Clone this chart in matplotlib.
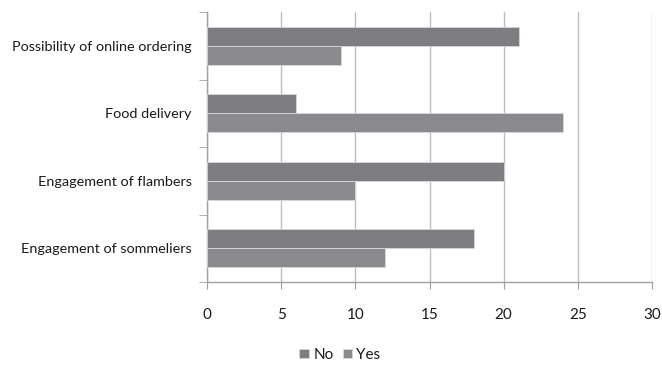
import matplotlib.pyplot as plt
import numpy as np

categories = ['Engagement of sommeliers', 'Engagement of flambers',
              'Food delivery', 'Possibility of online ordering']
no_values = [18, 20, 6, 21]
yes_values = [12, 10, 24, 9]

plt.rcParams['font.family'] = ['Lato', 'DejaVu Sans']

fig = plt.figure(figsize=(6.62, 3.67), dpi=100)
ax = fig.add_axes([207 / 662, 1 - 282 / 367, 445 / 662, 270 / 367])

y = np.arange(len(categories))
h = 0.285
ax.barh(y + h / 2, no_values, height=h, color='#7e7e82', edgecolor='#d8d8d8',
        linewidth=0.6, label='No', zorder=3)
ax.barh(y - h / 2, yes_values, height=h, color='#8b8b8f', edgecolor='#d8d8d8',
        linewidth=0.6, label='Yes', zorder=3)

ax.set_xlim(0, 30)
ax.set_ylim(-0.5, len(categories) - 0.5)
ax.set_xticks(range(0, 31, 5))
ax.grid(axis='x', color='#bdbdbd', linewidth=1, zorder=0)

# category labels sit between the outward ticks at band boundaries
ax.set_yticks(y)
ax.set_yticklabels(categories, fontsize=10.4, color='#1a1a1a')
ax.tick_params(axis='y', length=0, pad=11)
ax.set_yticks(np.arange(-0.5, len(categories), 1), minor=True)
ax.tick_params(axis='y', which='minor', length=6, color='#a0a0a0', direction='out')
ax.tick_params(axis='x', length=5, color='#a0a0a0', direction='out',
               labelsize=11, labelcolor='#1a1a1a', pad=14)

for side in ['top', 'right']:
    ax.spines[side].set_visible(False)
for side in ['left', 'bottom']:
    ax.spines[side].set_color('#a0a0a0')
    ax.spines[side].set_linewidth(1)

fig.legend(loc='center', bbox_to_anchor=(340 / 662, 1 - 355 / 367), ncol=2,
           frameon=False, fontsize=11, handlelength=0.6, handleheight=0.6,
           handletextpad=0.3, columnspacing=0.6, labelcolor='#1a1a1a')

fig.savefig('out.png', dpi=100)
